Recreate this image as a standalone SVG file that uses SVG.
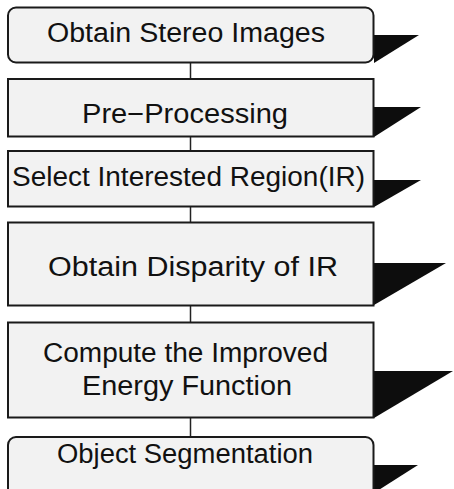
<svg xmlns="http://www.w3.org/2000/svg" width="454" height="489" viewBox="0 0 454 489">
<style>
.box{fill:#f2f2f2;stroke:#1a1a1a;stroke-width:2}
.sh{fill:#0d0d0d}
.t{font-family:"Liberation Sans",Arial,sans-serif;font-size:27px;fill:#111;text-anchor:start}
.c{stroke:#222;stroke-width:1.5;fill:none}
</style>
<rect width="454" height="489" fill="#ffffff"/>
<g id="connectors">
<line class="c" x1="190.5" y1="63" x2="190.5" y2="79"/>
<line class="c" x1="190.5" y1="137" x2="190.5" y2="151"/>
<line class="c" x1="190.5" y1="207" x2="190.5" y2="222"/>
<line class="c" x1="190.5" y1="306" x2="190.5" y2="322"/>
<line class="c" x1="190.5" y1="418" x2="190.5" y2="437"/>
</g>
<g id="n1">
<polygon class="sh" points="374,35 419,35 374,63"/>
<rect class="box" x="8" y="7.5" width="365.5" height="55" rx="8"/>
<text class="t" x="47" y="42" textLength="278" lengthAdjust="spacingAndGlyphs">Obtain Stereo Images</text>
</g>
<g id="n2">
<polygon class="sh" points="374,107 421,107 374,137"/>
<rect class="box" x="8" y="79" width="365.5" height="57.5"/>
<text class="t" x="82" y="123" textLength="206" lengthAdjust="spacingAndGlyphs">Pre−Processing</text>
</g>
<g id="n3">
<polygon class="sh" points="374,180 421,180 374,207"/>
<rect class="box" x="8" y="151" width="365.5" height="55.5"/>
<text class="t" x="12" y="186" textLength="353" lengthAdjust="spacingAndGlyphs">Select Interested Region(IR)</text>
</g>
<g id="n4">
<polygon class="sh" points="374,263 446,263 374,305"/>
<rect class="box" x="8" y="222.5" width="365.5" height="83"/>
<text class="t" x="48" y="276" textLength="290" lengthAdjust="spacingAndGlyphs">Obtain Disparity of IR</text>
</g>
<g id="n5">
<polygon class="sh" points="374,371 453,371 374,418"/>
<rect class="box" x="8" y="322.5" width="365.5" height="95"/>
<text class="t" x="43" y="362" textLength="285" lengthAdjust="spacingAndGlyphs">Compute the Improved</text>
<text class="t" x="82" y="395" textLength="210" lengthAdjust="spacingAndGlyphs">Energy Function</text>
</g>
<g id="n6">
<polygon class="sh" points="374,465 418,465 374,493"/>
<rect class="box" x="8" y="437" width="365.5" height="62" rx="8"/>
<text class="t" x="57" y="463" textLength="256" lengthAdjust="spacingAndGlyphs">Object Segmentation</text>
</g>
</svg>
